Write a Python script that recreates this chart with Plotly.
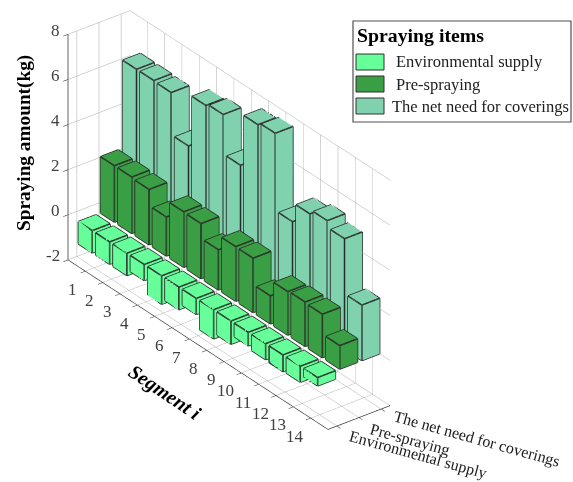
import math
import plotly.graph_objects as go

W, H = 573, 482
segments = list(range(1, 15))
series_names = ["Environmental supply", "Pre-spraying", "The net need for coverings"]
environmental = [-0.99, -0.99, -0.99, -0.71, -1.26, -1.0, -0.71, -1.29, -1.03, -0.6, -0.71, -0.74, -0.71, -0.37]
pre_spraying = [2.5, 2.5, 2.45, 1.73, 2.46, 2.44, 1.78, 2.42, 2.41, 1.24, 1.93, 1.97, 1.93, 1.04]
net_need = [6.4, 6.4, 6.37, 4.5, 6.8, 6.9, 5.15, 7.45, 7.57, 4.15, 5.0, 5.2, 4.9, 2.46]
colors = ["#66FF99", "#3A9E45", "#80D2AE"]
z_ticks = [-2, 0, 2, 4, 6, 8]
BAR = 0.8

def box(xc, yc, v):
    x0, x1, y0, y1 = xc - BAR/2, xc + BAR/2, yc - BAR/2, yc + BAR/2
    return [(x0,y0,0),(x1,y0,0),(x1,y1,0),(x0,y1,0),(x0,y0,v),(x1,y0,v),(x1,y1,v),(x0,y1,v)]

TRI = [(0,1,2),(0,2,3),(4,5,6),(4,6,7),(0,1,5),(0,5,4),(1,2,6),(1,6,5),(2,3,7),(2,7,6),(3,0,4),(3,4,7)]
EDGE = [(0,1),(1,2),(2,3),(3,0),(4,5),(5,6),(6,7),(7,4),(0,4),(1,5),(2,6),(3,7)]

fig = go.Figure()
for k, vals in enumerate([environmental, pre_spraying, net_need]):
    vx, vy, vz, ii, jj, kk, ex, ey, ez = [], [], [], [], [], [], [], [], []
    for s, v in zip(segments, vals):
        pts = box(s, k + 1, v)
        n = len(vx)
        vx += [p[0] for p in pts]; vy += [p[1] for p in pts]; vz += [p[2] for p in pts]
        for a, b, c in TRI:
            ii.append(n+a); jj.append(n+b); kk.append(n+c)
        for a, b in EDGE:
            ex += [pts[a][0], pts[b][0], None]
            ey += [pts[a][1], pts[b][1], None]
            ez += [pts[a][2], pts[b][2], None]
    fig.add_trace(go.Mesh3d(x=vx, y=vy, z=vz, i=ii, j=jj, k=kk, color=colors[k], flatshading=True,
                            lighting=dict(ambient=1, diffuse=0, specular=0, fresnel=0, roughness=1),
                            hoverinfo="skip", name=series_names[k]))
    fig.add_trace(go.Scatter3d(x=ex, y=ey, z=ez, mode="lines", line=dict(color="#2a2a2a", width=3),
                               hoverinfo="skip", showlegend=False))

TICKFONT = dict(family="Liberation Serif", size=17, color="#404040")
scene_ann = []
for s in segments:
    scene_ann.append(dict(x=s, y=0.6, z=-2, text=str(s), showarrow=False, font=TICKFONT,
                          xshift=-13 if s < 10 else -16, yshift=-18))
for z in z_ticks:
    scene_ann.append(dict(x=0, y=0.6, z=z, text=str(z), showarrow=False, font=TICKFONT, xanchor="right", xshift=-6, yshift=4))
cat_shift = [(81, -29), (51, -22), (95, -30)]
for k, name in enumerate(series_names):
    scene_ann.append(dict(x=15, y=k + 1, z=-2, text=name, showarrow=False, textangle=15.5,
                          font=dict(family="Liberation Serif", size=16, color="#202020"),
                          xshift=cat_shift[k][0], yshift=cat_shift[k][1]))

axis = dict(showbackground=False, showspikes=False, zeroline=False, showticklabels=False, title=dict(text=""),
            gridcolor="#aaaaaa", gridwidth=1, showline=True, linecolor="#303030", linewidth=1.5,
            ticks="outside", ticklen=6, tickcolor="#303030", tickwidth=1.2)
fig.update_layout(
    width=W, height=H, margin=dict(l=0, r=0, t=0, b=0), paper_bgcolor="white", showlegend=False,
    scene=dict(
        domain=dict(x=[0, 0.8], y=[0.087, 1]),
        aspectmode="manual", aspectratio=dict(x=1.942, y=0.355, z=1.184),
        camera=dict(projection=dict(type="orthographic"), up=dict(x=0, y=0, z=1), center=dict(x=0, y=0, z=0),
                    eye=dict(x=0.687*2.03, y=-0.527*2.03, z=0.5*2.03)),
        xaxis=dict(axis, range=[0, 15], tickvals=segments),
        yaxis=dict(axis, range=[0.6, 3.4], tickvals=[1, 2, 3]),
        zaxis=dict(axis, range=[-2, 8], tickvals=z_ticks),
        annotations=scene_ann,
    ),
)

def px(x): return x / W
def py(y): return 1 - y / H
fig.add_shape(type="rect", xref="paper", yref="paper", x0=px(353), x1=px(571), y0=py(21), y1=py(122),
              line=dict(color="#505050", width=1.2), fillcolor="white")
ann = [dict(x=px(355), y=py(35), text="<b>Spraying items</b>", font=dict(family="Liberation Serif", size=19.8, color="black"))]
rows = [62, 84, 106]
lab_x = [393.5, 393.5, 390]
for k, name in enumerate(series_names):
    fig.add_shape(type="rect", xref="paper", yref="paper", x0=px(356), x1=px(384), y0=py(rows[k]-8), y1=py(rows[k]+8),
                  line=dict(color="#303030", width=1), fillcolor=colors[k])
    ann.append(dict(x=px(lab_x[k]), y=py(rows[k]), text=name, font=dict(family="Liberation Serif", size=16.5, color="#202020")))
for a in ann:
    a.update(xref="paper", yref="paper", xanchor="left", yanchor="middle", showarrow=False)
ann.append(dict(x=px(24), y=py(143), text="<b>Spraying amount(kg)</b>", textangle=-90, xref="paper", yref="paper",
                xanchor="center", yanchor="middle", showarrow=False,
                font=dict(family="Liberation Serif", size=19.3, color="black")))
ann.append(dict(x=px(165), y=py(392), text="<b><i>Segment i</i></b>", textangle=34, xref="paper", yref="paper",
                xanchor="center", yanchor="middle", showarrow=False,
                font=dict(family="Liberation Serif", size=20, color="black")))
fig.update_layout(annotations=ann)
fig.write_html("out.html", config=dict(displayModeBar=False),
               post_script="document.body.style.margin='0';document.body.style.overflow='hidden';")
